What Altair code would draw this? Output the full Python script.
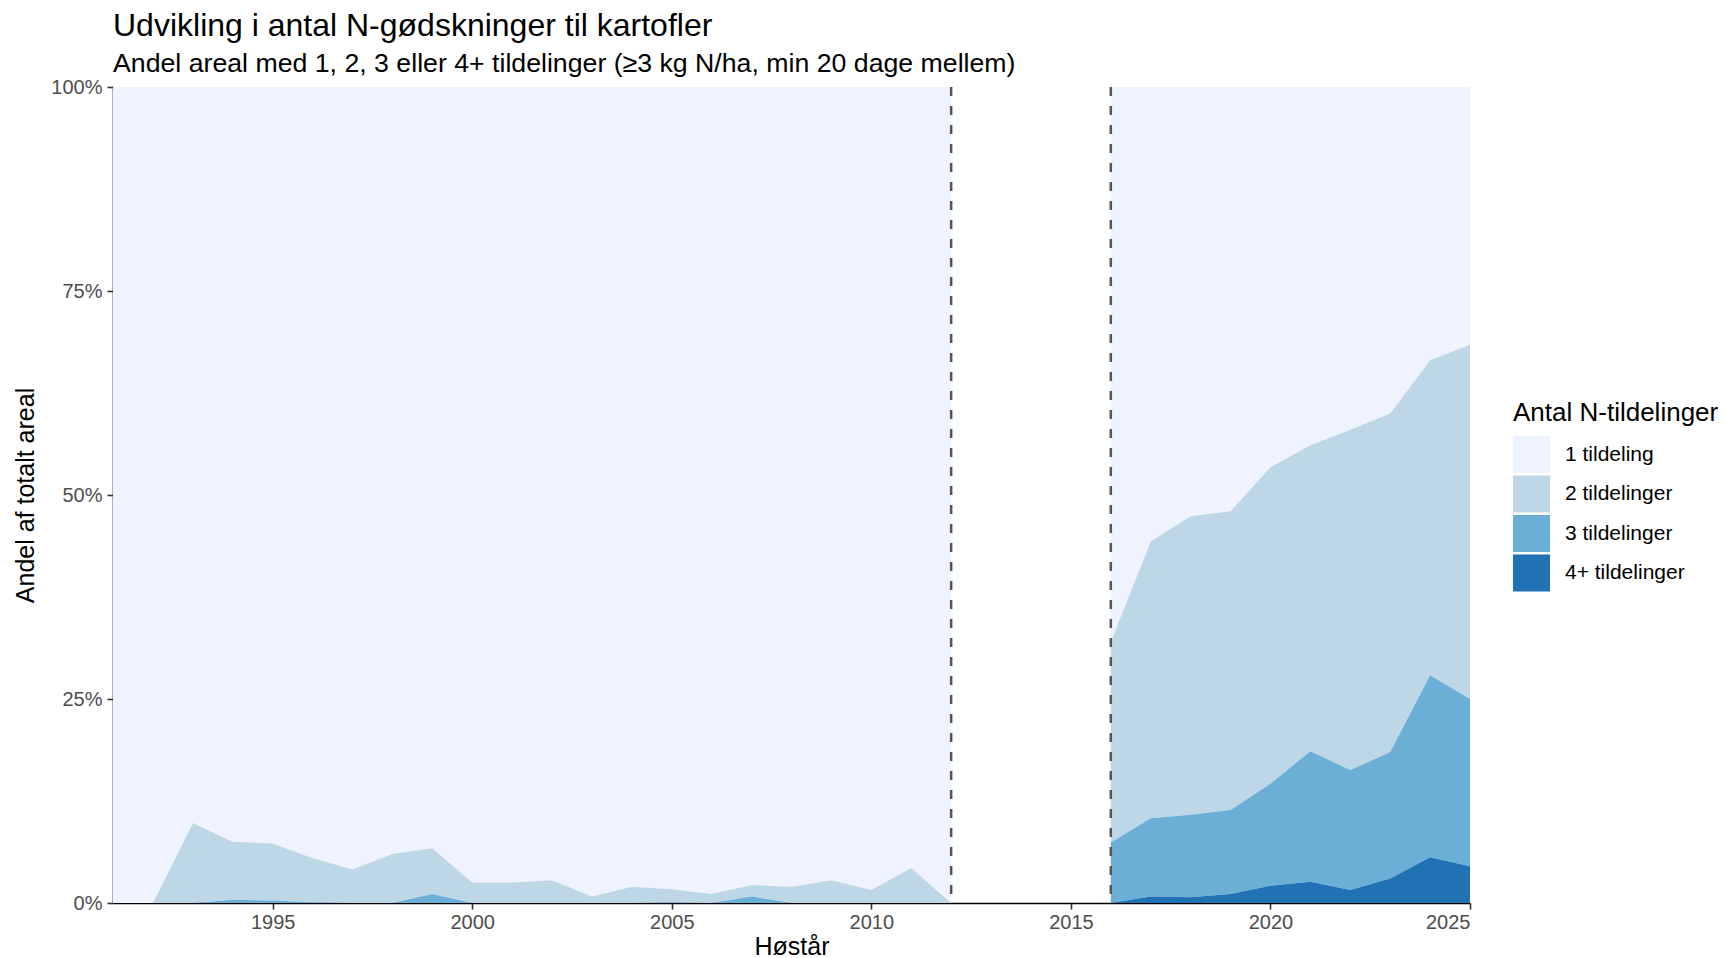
import altair as alt
import pandas as pd

# ---- data (percent of total area) ----
categories = ["1 tildeling", "2 tildelinger", "3 tildelinger", "4+ tildelinger"]
colors = ["#eff3ff", "#bdd7e7", "#6baed6", "#2171b5"]

years_early = [1991, 1992, 1993, 1994, 1995, 1996, 1997, 1998, 1999, 2000, 2001,
               2002, 2003, 2004, 2005, 2006, 2007, 2008, 2009, 2010, 2011, 2012]
p1_early = [100, 100, 90.2, 92.5, 92.7, 94.5, 95.9, 94.0, 93.3, 97.5, 97.5,
            97.2, 99.2, 98.0, 98.3, 98.9, 97.8, 98.0, 97.2, 98.4, 95.7, 100]
p2_early = [0, 0, 9.8, 7.1, 7.0, 5.4, 4.1, 6.0, 5.6, 2.5, 2.5,
            2.8, 0.8, 2.0, 1.6, 1.1, 1.4, 2.0, 2.8, 1.6, 4.3, 0]
p3_early = [0, 0, 0, 0.4, 0.3, 0.1, 0, 0, 1.1, 0, 0,
            0, 0, 0, 0.1, 0, 0.8, 0, 0, 0, 0, 0]
p4_early = [0, 0, 0, 0, 0, 0, 0, 0, 0, 0, 0,
            0, 0, 0, 0, 0, 0, 0, 0, 0, 0, 0]

years_late = [2016, 2017, 2018, 2019, 2020, 2021, 2022, 2023, 2024, 2025]
p1_late = [68.0, 55.7, 52.6, 52.0, 46.6, 43.9, 42.0, 40.0, 33.5, 31.6]
p2_late = [24.6, 33.9, 36.6, 36.6, 38.8, 37.5, 41.7, 41.5, 38.6, 43.4]
p3_late = [7.4, 9.6, 10.1, 10.3, 12.5, 16.0, 14.7, 15.5, 22.3, 20.5]
p4_late = [0, 0.8, 0.7, 1.1, 2.1, 2.6, 1.6, 3.0, 5.6, 4.5]

break_years = [2012, 2016]
x_ticks = [1995, 2000, 2005, 2010, 2015, 2020, 2025]
y_ticks = [0, 25, 50, 75, 100]

# ---- long table ----
rows = []
for seg, yrs, series in [
    ("early", years_early, [p1_early, p2_early, p3_early, p4_early]),
    ("late", years_late, [p1_late, p2_late, p3_late, p4_late]),
]:
    for ci, (cat, vals) in enumerate(zip(categories, series)):
        for yr, v in zip(yrs, vals):
            rows.append({"year": yr, "share": v, "cat": cat, "seg": seg,
                         "ord": len(categories) - ci})
df = pd.DataFrame(rows)
rules_df = pd.DataFrame({"year": break_years})

FONT = "Liberation Sans"
W, H = 1357, 816

x_scale = alt.Scale(domain=[1991, 2025], nice=False, zero=False)

enc = dict(
    x=alt.X("year:Q", scale=x_scale,
            axis=alt.Axis(title="Høstår", values=x_ticks, format="d")),
    y=alt.Y("share:Q", stack="zero",
            scale=alt.Scale(domain=[0, 100], nice=False),
            axis=alt.Axis(title="Andel af totalt areal", values=y_ticks,
                          labelExpr="datum.value + '%'")),
    color=alt.Color("cat:N",
                    scale=alt.Scale(domain=categories, range=colors),
                    legend=alt.Legend(title="Antal N-tildelinger", orient="none",
                                      legendX=1400, legendY=313,
                                      symbolType="square", symbolSize=1369,
                                      symbolStrokeWidth=0, symbolOpacity=1,
                                      rowPadding=2.5, labelOffset=15,
                                      titlePadding=10, padding=0,
                                      titleLimit=0, labelLimit=0,
                                      titleFontSize=26, labelFontSize=21,
                                      titleFontWeight="normal",
                                      titleColor="#000000", labelColor="#000000",
                                      titleFont=FONT, labelFont=FONT)),
    order=alt.Order("ord:Q", sort="ascending"),
)

base = alt.Chart(df).mark_area(opacity=1, strokeWidth=0)
area_early = base.transform_filter(alt.datum.seg == "early").encode(**enc)
area_late = base.transform_filter(alt.datum.seg == "late").encode(**enc)

rules = alt.Chart(rules_df).mark_rule(
    color="#555555", strokeDash=[9, 10], strokeWidth=2.5
).encode(x=alt.X("year:Q", scale=x_scale))

chart = alt.layer(area_early, area_late, rules).properties(
    width=W, height=H,
    autosize="none",
    padding={"left": 105, "top": 79, "right": 248, "bottom": 56},
    title=alt.TitleParams(
        text="Udvikling i antal N-gødskninger til kartofler",
        subtitle="Andel areal med 1, 2, 3 eller 4+ tildelinger (≥3 kg N/ha, min 20 dage mellem)",
        anchor="start", frame="group", font=FONT, fontSize=32,
        fontWeight="normal", color="#000000",
        subtitleFont=FONT, subtitleFontSize=26.7, subtitleColor="#000000",
        subtitlePadding=7.5, offset=-1.2,
    ),
).configure_view(stroke=None).configure_axis(
    grid=False, domainColor="#000000", domainWidth=1.6,
    tickColor="#333333", tickWidth=1.6, tickSize=6,
    labelColor="#4d4d4d", labelFont=FONT, labelFontSize=20,
    titleFont=FONT, titleFontSize=25, titleFontWeight="normal",
    titleColor="#000000",
).configure_axisX(labelPadding=3, titlePadding=2).configure_axisY(
    labelPadding=5, titlePadding=12
)

chart.save("out.html", embed_options={"renderer": "svg", "actions": False})
